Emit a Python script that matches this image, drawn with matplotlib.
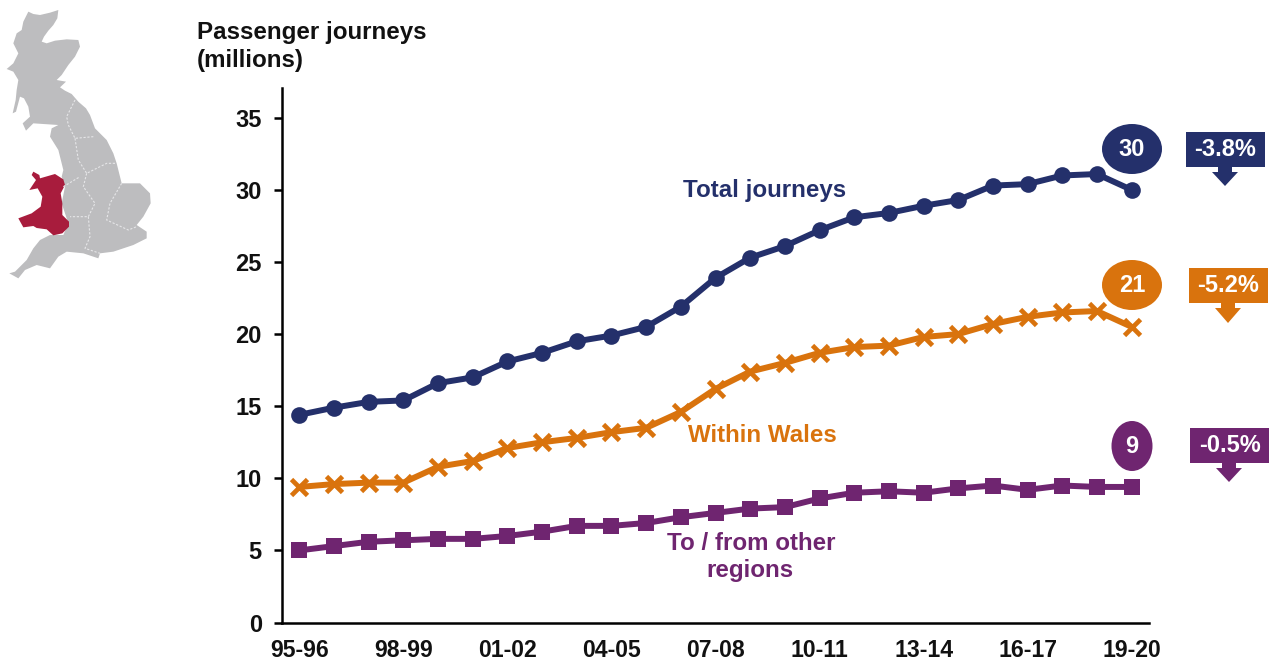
import matplotlib
matplotlib.use("Agg")
import matplotlib.pyplot as plt
from matplotlib.patches import Polygon, Ellipse, Rectangle

plt.rcParams['font.family'] = ['Liberation Sans', 'DejaVu Sans']
plt.rcParams['font.weight'] = 'bold'

years = ['95-96','96-97','97-98','98-99','99-00','00-01','01-02','02-03','03-04','04-05','05-06','06-07','07-08',
         '08-09','09-10','10-11','11-12','12-13','13-14','14-15','15-16','16-17','17-18','18-19','19-20']
total = [14.4,14.9,15.3,15.4,16.6,17.0,18.1,18.7,19.5,19.9,20.5,21.9,23.9,25.3,26.1,27.2,28.1,28.4,28.9,29.3,30.3,30.4,31.0,31.1,30.0]
within = [9.4,9.6,9.7,9.7,10.8,11.2,12.1,12.5,12.8,13.2,13.5,14.6,16.2,17.4,18.0,18.7,19.1,19.2,19.8,20.0,20.7,21.2,21.5,21.6,20.5]
other = [5.0,5.3,5.6,5.7,5.8,5.8,6.0,6.3,6.7,6.7,6.9,7.3,7.6,7.9,8.0,8.6,9.0,9.1,9.0,9.3,9.5,9.2,9.5,9.4,9.4]
yticks = [0,5,10,15,20,25,30,35]

NAVY = '#24306B'; ORANGE = '#D9730D'; PURPLE = '#6F2570'
GREY = '#BDBDBF'; RED = '#A81C3D'
W, H = 1272, 662

fig = plt.figure(figsize=(W/100, H/100), dpi=100, facecolor='white')
L, R, T, B = 282, 1149, 88, 622.5
ax = fig.add_axes([L/W, 1-B/H, (R-L)/W, (B-T)/H])
x = list(range(len(years)))
ax.plot(x, total, color=NAVY, lw=4.3, marker='o', ms=12, mew=0, clip_on=False)
ax.plot(x, within, color=ORANGE, lw=4.3, marker='x', ms=11, mew=3.4, clip_on=False)
ax.plot(x, other, color=PURPLE, lw=4.3, marker='s', ms=11.5, mew=0, clip_on=False)
ax.set_xlim(-0.5, 24.5)
ax.set_ylim(0, (B-T)/14.42)
ax.set_yticks(yticks)
ax.set_xticks(x[::3], years[::3])
for s in ('top', 'right'):
    ax.spines[s].set_visible(False)
for s in ('left', 'bottom'):
    ax.spines[s].set_linewidth(1.8)
    ax.spines[s].set_color('black')
ax.tick_params(axis='y', length=6, width=1.8, labelsize=17, pad=8.5, labelcolor='#111111')
ax.tick_params(axis='x', length=0, labelsize=16.6, pad=12, labelcolor='#111111')

# pixel-space overlay
ov = fig.add_axes([0, 0, 1, 1], facecolor='none')
ov.set_xlim(0, W); ov.set_ylim(H, 0); ov.axis('off')

TS = 17.4
ov.text(197, 32, 'Passenger journeys', fontsize=TS, va='center', ha='left', color='#111111')
ov.text(197, 60, '(millions)', fontsize=TS, va='center', ha='left', color='#111111')
ov.text(765, 190, 'Total journeys', fontsize=TS, va='center', ha='center', color=NAVY)
ov.text(762, 435, 'Within Wales', fontsize=TS, va='center', ha='center', color=ORANGE)
ov.text(751, 543, 'To / from other', fontsize=TS, va='center', ha='center', color=PURPLE)
ov.text(750, 570, 'regions', fontsize=TS, va='center', ha='center', color=PURPLE)

callouts = [('30', '-3.8%', NAVY, 149, 60, 1186, 132, 167, 186, 1225),
            ('21', '-5.2%', ORANGE, 285, 60, 1189, 268, 303, 323, 1228),
            ('9', '-0.5%', PURPLE, 446, 41, 1190, 428, 463, 482, 1229)]
for val, pct, col, cy, ew, bx, by0, by1, tip, ax_c in callouts:
    ov.add_patch(Ellipse((1132, cy), ew, 50, fc=col, ec='none', zorder=5))
    ov.text(1132, cy+0.5, val, color='white', fontsize=17, ha='center', va='center', zorder=6)
    ov.add_patch(Rectangle((bx, by0), 78.5, by1-by0, fc=col, ec='none'))
    ov.text(bx+39.5, (by0+by1)/2, pct, color='white', fontsize=17, ha='center', va='center')
    ov.add_patch(Polygon([(ax_c-7, by1), (ax_c+7, by1), (ax_c+7, by1+5), (ax_c+13, by1+5),
                          (ax_c, tip), (ax_c-13, by1+5), (ax_c-7, by1+5)], fc=col, ec='none'))

# locator map (traced in 3x crop coordinates)
gb = [(85,35),(100,42),(120,45),(150,38),(175,30),(172,55),(160,75),(145,92),(132,110),(125,125),(140,130),
      (165,122),(200,118),(235,120),(240,140),(225,170),(205,195),(185,225),(170,240),(198,245),(180,262),
      (195,272),(215,282),(235,305),(258,325),(270,345),(285,385),(320,420),(340,460),(350,490),
      (365,550),(420,550),(450,580),(452,610),(430,650),(410,675),(440,695),(440,715),(400,735),(340,755),
      (300,760),(295,775),(250,760),(200,755),(175,770),(150,805),(110,795),(75,810),(55,835),(28,820),
      (45,815),(80,780),(100,745),(120,720),(150,705),(190,705),(205,670),(185,610),(195,560),(185,530),
      (190,510),(180,470),(175,450),(150,410),(155,385),(175,375),(100,370),(78,392),(68,370),(90,350),
      (85,320),(72,295),(60,290),(48,335),(38,340),(47,300),(50,270),(55,240),(40,215),(20,207),(40,190),
      (55,160),(40,130),(50,100),(65,90),(70,65)]
wales = [(100,515),(118,525),(120,535),(165,522),(190,538),(195,555),(182,580),(187,610),(187,645),(207,665),
         (207,680),(187,700),(160,706),(140,688),(110,684),(100,678),(70,682),(55,655),(95,640),(122,620),
         (127,590),(113,565),(88,570),(108,540),(95,525)]
borders = [[(225,300),(200,350),(205,375),(225,415),(280,410)],
           [(225,415),(235,480),(260,520),(320,490),(345,490)],
           [(260,520),(250,560),(285,610),(265,650),(210,650)],
           [(365,550),(330,610),(320,660),(385,690),(410,680)],
           [(265,650),(270,710),(255,745),(300,760)],
           [(190,560),(240,530)]]
sc = lambda pts: [(px/3, py/3) for px, py in pts]
ov.add_patch(Polygon(sc(gb), fc=GREY, ec='none'))
for b in borders:
    ov.plot(*zip(*sc(b)), color='#E6E6E8', lw=0.8, ls=(0, (2, 1.5)))
ov.add_patch(Polygon(sc(wales), fc=RED, ec='none'))

fig.savefig('out.png', dpi=100)
